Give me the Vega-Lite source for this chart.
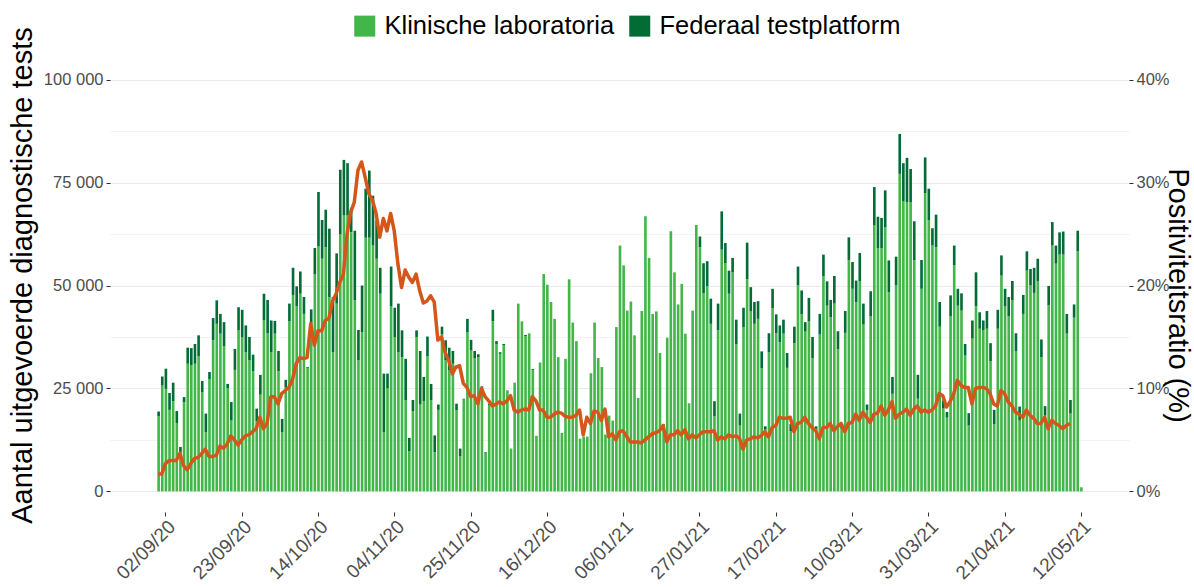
{
"$schema":"https://vega.github.io/schema/vega-lite/v6.json",
"width":1019,"height":453,
"autosize":{"type":"none"},
"padding":{"left":110,"top":59,"right":65,"bottom":75},
"background":"white",
"config":{"font":"Liberation Sans","view":{"stroke":null},
 "axis":{"labelFont":"Liberation Sans","labelColor":"#4d4d4d","labelFontSize":16.5,"tickColor":"#333333","tickSize":4,"labelPadding":3,"domain":false,"titleFont":"Liberation Sans","titleFontWeight":"normal","titleColor":"#000000","titleFontSize":29}},
"data":{"values":[
{"d":"2020/08/31","lab":18300,"fed":1100,"p":1.7},
{"d":"2020/09/01","lab":25700,"fed":2200,"p":1.7},
{"d":"2020/09/02","lab":24900,"fed":4900,"p":2.7},
{"d":"2020/09/03","lab":19800,"fed":4100,"p":3.0},
{"d":"2020/09/04","lab":21900,"fed":4500,"p":3.0},
{"d":"2020/09/05","lab":16600,"fed":2900,"p":3.0},
{"d":"2020/09/06","lab":9500,"fed":1300,"p":3.7},
{"d":"2020/09/07","lab":21700,"fed":1200,"p":2.5},
{"d":"2020/09/08","lab":31000,"fed":3900,"p":2.1},
{"d":"2020/09/09","lab":30700,"fed":4100,"p":2.7},
{"d":"2020/09/10","lab":31000,"fed":4800,"p":3.2},
{"d":"2020/09/11","lab":32800,"fed":5100,"p":3.3},
{"d":"2020/09/12","lab":24100,"fed":2700,"p":3.7},
{"d":"2020/09/13","lab":14400,"fed":4500,"p":4.1},
{"d":"2020/09/14","lab":27300,"fed":1700,"p":3.4},
{"d":"2020/09/15","lab":36700,"fed":5400,"p":3.4},
{"d":"2020/09/16","lab":40700,"fed":5700,"p":3.5},
{"d":"2020/09/17","lab":38300,"fed":4800,"p":4.4},
{"d":"2020/09/18","lab":35200,"fed":5900,"p":4.2},
{"d":"2020/09/19","lab":25100,"fed":1000,"p":4.6},
{"d":"2020/09/20","lab":17200,"fed":4500,"p":5.4},
{"d":"2020/09/21","lab":29500,"fed":5100,"p":5.0},
{"d":"2020/09/22","lab":39100,"fed":5600,"p":4.5},
{"d":"2020/09/23","lab":37500,"fed":6600,"p":5.0},
{"d":"2020/09/24","lab":33800,"fed":6500,"p":5.4},
{"d":"2020/09/25","lab":31800,"fed":5700,"p":5.5},
{"d":"2020/09/26","lab":29200,"fed":4000,"p":5.8},
{"d":"2020/09/27","lab":17100,"fed":3000,"p":6.1},
{"d":"2020/09/28","lab":23500,"fed":4800,"p":7.2},
{"d":"2020/09/29","lab":41500,"fed":6500,"p":6.1},
{"d":"2020/09/30","lab":38400,"fed":8100,"p":6.6},
{"d":"2020/10/01","lab":33800,"fed":7700,"p":9.2},
{"d":"2020/10/02","lab":38300,"fed":3100,"p":9.2},
{"d":"2020/10/03","lab":29200,"fed":4900,"p":8.5},
{"d":"2020/10/04","lab":14400,"fed":3200,"p":9.5},
{"d":"2020/10/05","lab":25200,"fed":1900,"p":9.8},
{"d":"2020/10/06","lab":41300,"fed":4300,"p":10.1},
{"d":"2020/10/07","lab":47700,"fed":6600,"p":10.9},
{"d":"2020/10/08","lab":45000,"fed":4800,"p":12.4},
{"d":"2020/10/09","lab":48000,"fed":5400,"p":13.0},
{"d":"2020/10/10","lab":43100,"fed":4100,"p":12.9},
{"d":"2020/10/11","lab":30000,"fed":200,"p":13.0},
{"d":"2020/10/12","lab":40700,"fed":3500,"p":16.3},
{"d":"2020/10/13","lab":52700,"fed":6400,"p":14.2},
{"d":"2020/10/14","lab":59500,"fed":13200,"p":15.6},
{"d":"2020/10/15","lab":56500,"fed":9400,"p":15.6},
{"d":"2020/10/16","lab":59300,"fed":9100,"p":16.6},
{"d":"2020/10/17","lab":47200,"fed":16600,"p":16.8},
{"d":"2020/10/18","lab":33800,"fed":13400,"p":18.5},
{"d":"2020/10/19","lab":45600,"fed":12200,"p":19.2},
{"d":"2020/10/20","lab":62400,"fed":15700,"p":20.3},
{"d":"2020/10/21","lab":67000,"fed":13500,"p":21.1},
{"d":"2020/10/22","lab":67000,"fed":12700,"p":25.0},
{"d":"2020/10/23","lab":62900,"fed":6000,"p":27.1},
{"d":"2020/10/24","lab":46400,"fed":16900,"p":28.1},
{"d":"2020/10/25","lab":31800,"fed":7400,"p":31.2},
{"d":"2020/10/26","lab":38700,"fed":11300,"p":32.0},
{"d":"2020/10/27","lab":61600,"fed":11900,"p":30.5},
{"d":"2020/10/28","lab":61600,"fed":16300,"p":28.9},
{"d":"2020/10/29","lab":59700,"fed":12100,"p":28.3},
{"d":"2020/10/30","lab":56500,"fed":9300,"p":27.0},
{"d":"2020/10/31","lab":48000,"fed":6300,"p":24.7},
{"d":"2020/11/01","lab":14400,"fed":14200,"p":26.5},
{"d":"2020/11/02","lab":25000,"fed":3600,"p":25.3},
{"d":"2020/11/03","lab":44900,"fed":9700,"p":27.0},
{"d":"2020/11/04","lab":37500,"fed":7100,"p":25.3},
{"d":"2020/11/05","lab":33800,"fed":11800,"p":22.1},
{"d":"2020/11/06","lab":32600,"fed":6500,"p":19.8},
{"d":"2020/11/07","lab":22100,"fed":10100,"p":21.5},
{"d":"2020/11/08","lab":9800,"fed":3200,"p":20.8},
{"d":"2020/11/09","lab":19500,"fed":2700,"p":20.3},
{"d":"2020/11/10","lab":37500,"fed":1600,"p":21.1},
{"d":"2020/11/11","lab":21100,"fed":13000,"p":19.5},
{"d":"2020/11/12","lab":21900,"fed":5900,"p":18.3},
{"d":"2020/11/13","lab":32800,"fed":4800,"p":18.5},
{"d":"2020/11/14","lab":22200,"fed":3900,"p":19.0},
{"d":"2020/11/15","lab":9500,"fed":4100,"p":18.4},
{"d":"2020/11/16","lab":19800,"fed":1300,"p":14.7},
{"d":"2020/11/17","lab":38100,"fed":1900,"p":15.0},
{"d":"2020/11/18","lab":31800,"fed":4900,"p":13.5},
{"d":"2020/11/19","lab":29400,"fed":5500,"p":12.7},
{"d":"2020/11/20","lab":31000,"fed":3100,"p":11.4},
{"d":"2020/11/21","lab":19700,"fed":1600,"p":12.1},
{"d":"2020/11/22","lab":8500,"fed":1900,"p":12.2},
{"d":"2020/11/23","lab":22300,"fed":200,"p":10.5},
{"d":"2020/11/24","lab":38700,"fed":3200,"p":10.1},
{"d":"2020/11/25","lab":34200,"fed":2600,"p":9.2},
{"d":"2020/11/26","lab":32400,"fed":1700,"p":9.3},
{"d":"2020/11/27","lab":32600,"fed":700,"p":8.5},
{"d":"2020/11/28","lab":24800,"fed":700,"p":10.0},
{"d":"2020/11/29","lab":9200,"fed":300,"p":9.2},
{"d":"2020/11/30","lab":21000,"fed":300,"p":8.8},
{"d":"2020/12/01","lab":41300,"fed":2800,"p":8.3},
{"d":"2020/12/02","lab":35800,"fed":700,"p":8.5},
{"d":"2020/12/03","lab":33400,"fed":400,"p":8.7},
{"d":"2020/12/04","lab":35500,"fed":300,"p":8.5},
{"d":"2020/12/05","lab":24300,"fed":200,"p":8.8},
{"d":"2020/12/06","lab":10400,"fed":0,"p":9.3},
{"d":"2020/12/07","lab":26400,"fed":0,"p":7.9},
{"d":"2020/12/08","lab":45600,"fed":0,"p":7.7},
{"d":"2020/12/09","lab":41300,"fed":0,"p":7.9},
{"d":"2020/12/10","lab":37700,"fed":300,"p":8.0},
{"d":"2020/12/11","lab":38400,"fed":0,"p":7.9},
{"d":"2020/12/12","lab":29400,"fed":300,"p":9.2},
{"d":"2020/12/13","lab":13500,"fed":0,"p":8.8},
{"d":"2020/12/14","lab":31300,"fed":0,"p":7.9},
{"d":"2020/12/15","lab":52800,"fed":0,"p":7.9},
{"d":"2020/12/16","lab":50200,"fed":0,"p":7.2},
{"d":"2020/12/17","lab":46000,"fed":0,"p":7.2},
{"d":"2020/12/18","lab":41900,"fed":0,"p":7.5},
{"d":"2020/12/19","lab":32600,"fed":0,"p":7.7},
{"d":"2020/12/20","lab":14200,"fed":0,"p":7.6},
{"d":"2020/12/21","lab":32200,"fed":0,"p":7.3},
{"d":"2020/12/22","lab":51500,"fed":0,"p":7.2},
{"d":"2020/12/23","lab":41000,"fed":0,"p":7.2},
{"d":"2020/12/24","lab":36500,"fed":0,"p":7.4},
{"d":"2020/12/25","lab":12800,"fed":0,"p":7.9},
{"d":"2020/12/26","lab":13300,"fed":0,"p":5.5},
{"d":"2020/12/27","lab":13300,"fed":0,"p":7.2},
{"d":"2020/12/28","lab":28700,"fed":0,"p":6.6},
{"d":"2020/12/29","lab":41000,"fed":0,"p":7.8},
{"d":"2020/12/30","lab":32400,"fed":0,"p":7.7},
{"d":"2020/12/31","lab":30200,"fed":0,"p":6.9},
{"d":"2021/01/01","lab":13800,"fed":0,"p":8.0},
{"d":"2021/01/02","lab":18400,"fed":0,"p":5.3},
{"d":"2021/01/03","lab":17200,"fed":0,"p":5.6},
{"d":"2021/01/04","lab":39900,"fed":0,"p":5.0},
{"d":"2021/01/05","lab":59700,"fed":0,"p":5.8},
{"d":"2021/01/06","lab":54900,"fed":0,"p":5.9},
{"d":"2021/01/07","lab":43900,"fed":0,"p":5.3},
{"d":"2021/01/08","lab":46100,"fed":0,"p":4.8},
{"d":"2021/01/09","lab":37900,"fed":0,"p":4.8},
{"d":"2021/01/10","lab":22700,"fed":0,"p":4.8},
{"d":"2021/01/11","lab":43800,"fed":0,"p":4.7},
{"d":"2021/01/12","lab":66800,"fed":0,"p":5.0},
{"d":"2021/01/13","lab":56700,"fed":0,"p":5.3},
{"d":"2021/01/14","lab":43100,"fed":0,"p":5.6},
{"d":"2021/01/15","lab":43700,"fed":0,"p":5.7},
{"d":"2021/01/16","lab":33600,"fed":0,"p":5.9},
{"d":"2021/01/17","lab":16400,"fed":0,"p":6.4},
{"d":"2021/01/18","lab":37300,"fed":0,"p":4.8},
{"d":"2021/01/19","lab":63200,"fed":0,"p":5.5},
{"d":"2021/01/20","lab":53200,"fed":0,"p":5.5},
{"d":"2021/01/21","lab":45400,"fed":0,"p":5.9},
{"d":"2021/01/22","lab":50400,"fed":0,"p":5.5},
{"d":"2021/01/23","lab":38300,"fed":0,"p":6.0},
{"d":"2021/01/24","lab":21400,"fed":0,"p":5.1},
{"d":"2021/01/25","lab":43900,"fed":0,"p":5.5},
{"d":"2021/01/26","lab":64700,"fed":0,"p":5.2},
{"d":"2021/01/27","lab":59300,"fed":2600,"p":5.5},
{"d":"2021/01/28","lab":48100,"fed":7300,"p":5.8},
{"d":"2021/01/29","lab":49800,"fed":6100,"p":5.8},
{"d":"2021/01/30","lab":40700,"fed":6100,"p":5.8},
{"d":"2021/01/31","lab":18200,"fed":3700,"p":5.9},
{"d":"2021/02/01","lab":39100,"fed":6500,"p":5.0},
{"d":"2021/02/02","lab":58700,"fed":9300,"p":5.3},
{"d":"2021/02/03","lab":55400,"fed":4900,"p":5.1},
{"d":"2021/02/04","lab":48000,"fed":5600,"p":5.5},
{"d":"2021/02/05","lab":53200,"fed":3500,"p":5.3},
{"d":"2021/02/06","lab":35800,"fed":5900,"p":5.4},
{"d":"2021/02/07","lab":16000,"fed":2900,"p":5.2},
{"d":"2021/02/08","lab":39900,"fed":4700,"p":4.1},
{"d":"2021/02/09","lab":51500,"fed":8900,"p":5.0},
{"d":"2021/02/10","lab":43700,"fed":5900,"p":5.1},
{"d":"2021/02/11","lab":40700,"fed":5300,"p":5.3},
{"d":"2021/02/12","lab":41900,"fed":4300,"p":5.2},
{"d":"2021/02/13","lab":29900,"fed":4100,"p":5.4},
{"d":"2021/02/14","lab":15000,"fed":800,"p":5.8},
{"d":"2021/02/15","lab":33800,"fed":4600,"p":5.3},
{"d":"2021/02/16","lab":44500,"fed":4700,"p":6.2},
{"d":"2021/02/17","lab":38400,"fed":4600,"p":6.4},
{"d":"2021/02/18","lab":36200,"fed":4100,"p":7.2},
{"d":"2021/02/19","lab":38300,"fed":3400,"p":7.1},
{"d":"2021/02/20","lab":30000,"fed":3600,"p":7.1},
{"d":"2021/02/21","lab":14600,"fed":1800,"p":7.2},
{"d":"2021/02/22","lab":36000,"fed":4000,"p":5.8},
{"d":"2021/02/23","lab":50000,"fed":4600,"p":6.6},
{"d":"2021/02/24","lab":43000,"fed":5800,"p":6.7},
{"d":"2021/02/25","lab":38800,"fed":2300,"p":7.2},
{"d":"2021/02/26","lab":41300,"fed":5700,"p":6.6},
{"d":"2021/02/27","lab":32400,"fed":5100,"p":6.2},
{"d":"2021/02/28","lab":15200,"fed":600,"p":5.9},
{"d":"2021/03/01","lab":38100,"fed":5000,"p":5.1},
{"d":"2021/03/02","lab":52300,"fed":5200,"p":6.2},
{"d":"2021/03/03","lab":45100,"fed":5900,"p":6.2},
{"d":"2021/03/04","lab":42300,"fed":4200,"p":6.6},
{"d":"2021/03/05","lab":45600,"fed":6700,"p":5.9},
{"d":"2021/03/06","lab":34500,"fed":4400,"p":6.3},
{"d":"2021/03/07","lab":15200,"fed":800,"p":6.6},
{"d":"2021/03/08","lab":38500,"fed":5300,"p":5.8},
{"d":"2021/03/09","lab":56200,"fed":5500,"p":6.6},
{"d":"2021/03/10","lab":49200,"fed":6500,"p":6.7},
{"d":"2021/03/11","lab":46000,"fed":5200,"p":7.5},
{"d":"2021/03/12","lab":51000,"fed":6900,"p":6.9},
{"d":"2021/03/13","lab":40500,"fed":5100,"p":7.7},
{"d":"2021/03/14","lab":19700,"fed":1400,"p":7.2},
{"d":"2021/03/15","lab":42500,"fed":6100,"p":6.7},
{"d":"2021/03/16","lab":64600,"fed":9300,"p":7.5},
{"d":"2021/03/17","lab":59100,"fed":7600,"p":7.6},
{"d":"2021/03/18","lab":59100,"fed":7300,"p":8.3},
{"d":"2021/03/19","lab":64200,"fed":8900,"p":7.4},
{"d":"2021/03/20","lab":48400,"fed":7700,"p":7.9},
{"d":"2021/03/21","lab":23700,"fed":4100,"p":8.7},
{"d":"2021/03/22","lab":50000,"fed":7000,"p":7.1},
{"d":"2021/03/23","lab":77100,"fed":9700,"p":7.5},
{"d":"2021/03/24","lab":70500,"fed":9200,"p":7.7},
{"d":"2021/03/25","lab":70200,"fed":10800,"p":8.0},
{"d":"2021/03/26","lab":70200,"fed":8100,"p":7.4},
{"d":"2021/03/27","lab":56100,"fed":9500,"p":8.0},
{"d":"2021/03/28","lab":22500,"fed":5800,"p":8.3},
{"d":"2021/03/29","lab":49200,"fed":7000,"p":7.7},
{"d":"2021/03/30","lab":72400,"fed":8700,"p":7.9},
{"d":"2021/03/31","lab":65800,"fed":7700,"p":7.7},
{"d":"2021/04/01","lab":59700,"fed":4200,"p":7.9},
{"d":"2021/04/02","lab":59300,"fed":7900,"p":8.3},
{"d":"2021/04/03","lab":40000,"fed":6000,"p":9.5},
{"d":"2021/04/04","lab":20100,"fed":2000,"p":9.3},
{"d":"2021/04/05","lab":17900,"fed":1400,"p":8.2},
{"d":"2021/04/06","lab":42500,"fed":5100,"p":8.7},
{"d":"2021/04/07","lab":54900,"fed":4800,"p":9.5},
{"d":"2021/04/08","lab":45100,"fed":4100,"p":10.8},
{"d":"2021/04/09","lab":43900,"fed":4200,"p":10.3},
{"d":"2021/04/10","lab":33000,"fed":2800,"p":10.1},
{"d":"2021/04/11","lab":16000,"fed":3000,"p":10.1},
{"d":"2021/04/12","lab":37100,"fed":4400,"p":8.5},
{"d":"2021/04/13","lab":45000,"fed":8200,"p":10.0},
{"d":"2021/04/14","lab":39500,"fed":4000,"p":10.1},
{"d":"2021/04/15","lab":39200,"fed":2300,"p":10.1},
{"d":"2021/04/16","lab":39500,"fed":4300,"p":10.0},
{"d":"2021/04/17","lab":31600,"fed":4400,"p":9.5},
{"d":"2021/04/18","lab":16300,"fed":3500,"p":8.5},
{"d":"2021/04/19","lab":39500,"fed":4600,"p":8.3},
{"d":"2021/04/20","lab":52400,"fed":4900,"p":9.8},
{"d":"2021/04/21","lab":44900,"fed":4300,"p":9.5},
{"d":"2021/04/22","lab":42500,"fed":4700,"p":8.7},
{"d":"2021/04/23","lab":46400,"fed":4700,"p":8.3},
{"d":"2021/04/24","lab":34000,"fed":4400,"p":7.7},
{"d":"2021/04/25","lab":17200,"fed":3400,"p":7.5},
{"d":"2021/04/26","lab":43100,"fed":4600,"p":7.2},
{"d":"2021/04/27","lab":53600,"fed":4700,"p":7.9},
{"d":"2021/04/28","lab":50000,"fed":4000,"p":7.4},
{"d":"2021/04/29","lab":48200,"fed":6100,"p":7.1},
{"d":"2021/04/30","lab":51100,"fed":5400,"p":6.6},
{"d":"2021/05/01","lab":32600,"fed":4300,"p":6.6},
{"d":"2021/05/02","lab":18400,"fed":2300,"p":7.2},
{"d":"2021/05/03","lab":45200,"fed":4700,"p":6.1},
{"d":"2021/05/04","lab":59700,"fed":5700,"p":6.9},
{"d":"2021/05/05","lab":55300,"fed":4400,"p":6.6},
{"d":"2021/05/06","lab":57500,"fed":5400,"p":6.4},
{"d":"2021/05/07","lab":57500,"fed":5600,"p":6.1},
{"d":"2021/05/08","lab":38300,"fed":4800,"p":6.4},
{"d":"2021/05/09","lab":18900,"fed":3300,"p":6.6},
{"d":"2021/05/10","lab":42200,"fed":3200,"p":null},
{"d":"2021/05/11","lab":58300,"fed":5000,"p":null},
{"d":"2021/05/12","lab":1000,"fed":0,"p":null}
]},
"layer":[
 {"transform":[{"fold":["lab","fed"],"as":["bron","n"]}],
  "mark":{"type":"bar","timeUnitBandSize":0.88},
  "encoding":{
   "x":{"field":"d","type":"temporal","timeUnit":"yearmonthdate",
     "scale":{"domain":[{"year":2020,"month":8,"date":18,"hours":6},{"year":2021,"month":5,"date":25,"hours":18}]},
     "axis":{"title":null,"grid":false,"format":"%d/%m/%y","labelAngle":-45,"labelAlign":"right","labelBaseline":"top","labelFontSize":19,"labelPadding":1,
       "values":[{"year":2020,"month":9,"date":2,"hours":12},{"year":2020,"month":9,"date":23,"hours":12},{"year":2020,"month":10,"date":14,"hours":12},{"year":2020,"month":11,"date":4,"hours":12},{"year":2020,"month":11,"date":25,"hours":12},{"year":2020,"month":12,"date":16,"hours":12},{"year":2021,"month":1,"date":6,"hours":12},{"year":2021,"month":1,"date":27,"hours":12},{"year":2021,"month":2,"date":17,"hours":12},{"year":2021,"month":3,"date":10,"hours":12},{"year":2021,"month":3,"date":31,"hours":12},{"year":2021,"month":4,"date":21,"hours":12},{"year":2021,"month":5,"date":12,"hours":12}]}},
   "y":{"field":"n","type":"quantitative","stack":"zero",
     "scale":{"domain":[-5000,105000],"nice":false,"zero":false},
     "axis":{"title":"Aantal uitgevoerde diagnostische tests","titleX":-88,"titleY":216,"titleBaseline":"middle",
       "values":[0,12500,25000,37500,50000,62500,75000,87500,100000],
       "labelExpr":"datum.value % 25000 === 0 ? replace(format(datum.value, ','), ',', ' ') : ''",
       "tickColor":{"condition":{"test":"datum.value % 25000 !== 0","value":"transparent"},"value":"#333333"},
       "gridColor":{"condition":{"test":"datum.value % 25000 !== 0","value":"#f3f3f3"},"value":"#ebebeb"},
       "grid":true}},
   "color":{"field":"bron","type":"nominal",
     "scale":{"domain":["lab","fed"],"range":["#43b649","#036b35"]},
     "legend":{"title":null,"orient":"none","legendX":242,"legendY":-46,"direction":"horizontal","symbolType":"square","symbolSize":441,"symbolStrokeWidth":0,"symbolOpacity":1,"labelFontSize":25.5,"labelColor":"#000000","labelFont":"Liberation Sans","labelOffset":7,"columnPadding":12,"labelLimit":500,
       "labelExpr":"datum.label === 'lab' ? 'Klinische laboratoria' : 'Federaal testplatform'"}},
   "order":{"field":"bron","sort":"descending"}
  }},
 {"mark":{"type":"line","color":"#d4561b","strokeWidth":3.5,"strokeJoin":"round"},
  "encoding":{
   "x":{"field":"d","type":"temporal","timeUnit":"yearmonthdate","bandPosition":0.5},
   "y":{"field":"p","type":"quantitative",
     "scale":{"domain":[-2,42],"nice":false,"zero":false},
     "axis":{"orient":"right","title":"Positiviteitsratio (%)","titleX":48,"titleY":236,"titleBaseline":"middle","grid":false,
       "values":[0,10,20,30,40],"labelExpr":"datum.value + '%'"}}
  }}
],
"resolve":{"scale":{"y":"independent"}}
}
